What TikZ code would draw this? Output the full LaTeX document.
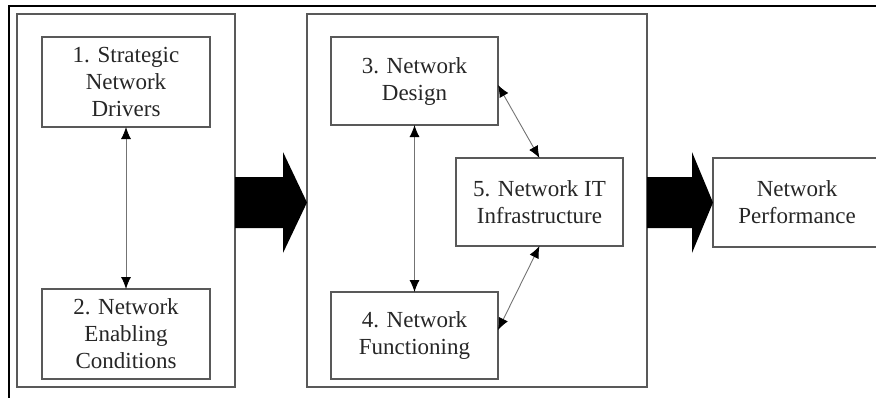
\documentclass[tikz,border=0pt]{standalone}
\usepackage{fontspec}
\setmainfont{Liberation Serif}
\usetikzlibrary{arrows.meta,calc,positioning}
\newcommand{\pxu}{0.5pt}
\colorlet{linegray}{black!65}
\colorlet{txtgray}{black!85}
\tikzset{
    grpsty/.style={draw=linegray, line width=1pt, rectangle, inner sep=0pt, outer sep=0pt, minimum height=373*\pxu},
    boxsty/.style={draw=linegray, line width=0.9pt, rectangle, inner sep=0pt, outer sep=0pt, align=center, text=txtgray,
                   font=\fontsize{11.5}{13.5}\selectfont, minimum width=167*\pxu, minimum height=88*\pxu},
    linksty/.style={draw=black!55, line width=0.45pt, {Latex[length=6pt,width=5pt,color=black]}-{Latex[length=6pt,width=5pt,color=black]}},
    bigarrsty/.style={fill=black},
    frmsty/.style={draw=black, line width=1pt},
}

\begin{document}
\begin{tikzpicture}[x=\pxu, y=-\pxu]
  \useasboundingbox (0,0) rectangle (876,398);
  \clip (0,0) rectangle (876,398);
  \draw[frmsty] (876,6) -- (9,6) -- (9,398);

  % the two groups
  \node[grpsty, minimum width=218*\pxu] (grpA) at (126,200.5) {};
  \node[grpsty, minimum width=340*\pxu] (grpB) at (477,200.5) {};

  \node[boxsty, minimum width=168*\pxu, minimum height=90*\pxu] (drv) at (126,82) {1. Strategic\\Network\\Drivers};
  \node[boxsty, minimum width=168*\pxu, minimum height=90*\pxu] (enb) at (126,334) {2. Network\\Enabling\\Conditions};
  \node[boxsty] (dsg) at (414.5,81) {3. Network\\Design};
  \node[boxsty, minimum height=87*\pxu] (fun) at (414.5,335.5) {4. Network\\Functioning};
  \node[boxsty] (itf) at (539.5,202) {5. Network IT\\Infrastructure};
  \node[boxsty, minimum width=168*\pxu, minimum height=89*\pxu] (prf) at (797,202.5) {Network\\Performance};

  \draw[linksty] (drv) -- (enb);
  \draw[linksty] (dsg) -- (fun);
  \draw[linksty] ([yshift=-2pt]dsg.east) -- (itf.north);
  \draw[linksty] ([yshift=2.75pt]fun.east) -- (itf.south);

  % big arrows
  \fill[bigarrsty] ([yshift=-1pt]grpA.east) ++(0,-25.5) -- ++(48,0) -- ++(0,-25) -- ([yshift=-1pt]grpB.west)
      -- ++(-24,50.5) -- ++(0,-25) -- ++(-48,0) -- cycle;
  \fill[bigarrsty] ([yshift=-1pt]grpB.east) ++(0,-25.5) -- ++(45,0) -- ++(0,-25) -- (prf.west)
      -- ++(-21,50.5) -- ++(0,-25) -- ++(-45,0) -- cycle;
\end{tikzpicture}
\end{document}
